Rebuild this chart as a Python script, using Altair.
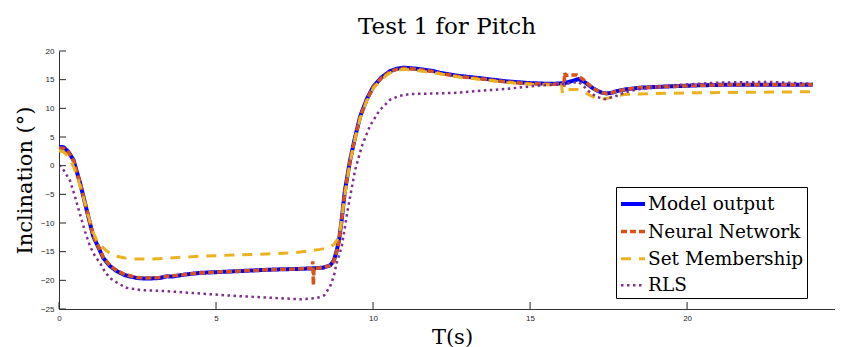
import altair as alt
import pandas as pd

# ---------------- data ----------------
series_names = ["Model output", "Neural Network", "Set Membership", "RLS"]
series_colors = ["#0000FF", "#D95319", "#EDB120", "#7E2F8E"]

model_t = [0, 0.15, 0.3, 0.46, 0.67, 0.88, 1.09, 1.31, 1.41, 1.62, 1.84, 2.1, 2.47, 2.8, 3.2, 3.43,
           3.6, 4.0, 4.49, 5.3, 6.08, 6.9, 7.68, 8.1, 8.4, 8.63, 8.75, 8.84, 8.92, 9.0, 9.1, 9.27,
           9.43, 9.59, 9.8, 10.01, 10.25, 10.54, 10.75, 10.97, 11.4, 11.92, 12.13, 12.67, 13.5,
           14.26, 15.0, 15.48, 15.8, 16.1, 16.3, 16.54, 16.7, 16.86, 17.0, 17.17, 17.3, 17.44,
           17.6, 17.76, 18.03, 18.5, 19.3, 20.3, 21.05, 22.5, 24.0]
model_v = [3.3, 3.2, 2.4, 1.0, -3.0, -7.7, -12.3, -14.9, -16.1, -17.5, -18.4, -19.1, -19.6, -19.7,
           -19.6, -19.3, -19.35, -19.0, -18.7, -18.5, -18.3, -18.1, -18.0, -17.9, -17.8, -17.4,
           -16.6, -14.9, -12.9, -9.5, -4.5, 1.0, 5.0, 8.6, 11.6, 13.8, 15.3, 16.5, 16.9, 17.1,
           16.9, 16.5, 16.2, 15.7, 15.2, 14.7, 14.4, 14.3, 14.3, 14.4, 14.7, 15.1, 14.7, 14.1,
           13.5, 13.0, 12.7, 12.6, 12.7, 13.0, 13.3, 13.6, 13.8, 14.0, 14.1, 14.1, 14.1]

nn_t = [0, 0.15, 0.3, 0.46, 0.67, 0.88, 1.09, 1.31, 1.41, 1.62, 1.84, 2.1, 2.47, 2.8, 3.2, 3.43,
        4.0, 4.49, 5.3, 6.08, 6.9, 7.68, 8.06, 8.08, 8.1, 8.12, 8.4, 8.63, 8.75, 8.84, 8.92, 9.0,
        9.1, 9.27, 9.43, 9.59, 9.8, 10.01, 10.25, 10.54, 10.75, 10.97, 11.4, 11.92, 12.13, 12.67,
        13.5, 14.26, 15.0, 15.48, 15.8, 16.05, 16.08, 16.1, 16.13, 16.3, 16.49, 16.7, 16.86,
        17.0, 17.17, 17.3, 17.44, 17.6, 17.76, 18.03, 18.5, 19.3, 20.3, 21.05, 22.5, 24.0]
nn_v = [3.1, 3.0, 2.3, 0.9, -3.0, -7.6, -12.2, -14.8, -16.0, -17.4, -18.3, -19.0, -19.5, -19.6,
        -19.5, -19.3, -19.0, -18.7, -18.5, -18.3, -18.1, -18.0, -17.9, -16.7, -20.8, -17.9,
        -17.8, -17.4, -16.7, -15.0, -13.0, -9.6, -4.6, 0.9, 4.9, 8.5, 11.5, 13.7, 15.2, 16.4,
        16.8, 17.0, 16.8, 16.4, 16.1, 15.6, 15.1, 14.6, 14.3, 14.2, 14.2, 14.3, 13.8, 16.2, 15.7,
        15.8, 15.8, 15.0, 14.2, 13.5, 13.0, 12.7, 12.6, 12.7, 13.0, 13.3, 13.6, 13.8, 14.0, 14.1,
        14.1, 14.1]

sm_t = [0, 0.15, 0.3, 0.46, 0.62, 0.77, 0.93, 1.09, 1.2, 1.31, 1.5, 1.73, 1.84, 2.1, 2.47, 3.0,
        3.5, 4.49, 5.5, 6.6, 7.5, 8.31, 8.6, 8.74, 8.85, 8.95, 9.1, 9.27, 9.43, 9.59, 9.8, 10.01,
        10.25, 10.54, 10.75, 10.97, 11.4, 11.92, 12.67, 13.5, 14.26, 15.0, 15.5, 16.0, 16.03,
        16.06, 16.5, 16.8, 17.07, 17.3, 17.5, 17.7, 18.0, 18.3, 20.0, 22.0, 24.0]
sm_v = [2.6, 2.4, 1.5, -0.1, -2.6, -5.4, -8.7, -11.7, -13.0, -13.8, -14.8, -15.6, -15.8, -16.1,
        -16.3, -16.3, -16.1, -15.8, -15.6, -15.4, -15.2, -14.6, -14.3, -13.8, -13.0, -11.5, -5.2,
        0.7, 4.7, 8.3, 11.3, 13.5, 15.0, 16.2, 16.6, 16.8, 16.6, 16.2, 15.5, 15.0, 14.5, 14.2,
        14.1, 14.1, 12.7, 13.3, 13.3, 12.6, 11.8, 11.6, 11.8, 12.1, 12.4, 12.5, 12.7, 12.8, 12.9]

rls_t = [0, 0.15, 0.35, 0.5, 0.67, 0.83, 0.99, 1.15, 1.31, 1.46, 1.62, 1.9, 2.15, 2.6, 3.43, 4.5,
         5.55, 6.6, 7.68, 8.2, 8.45, 8.63, 8.75, 8.84, 8.92, 9.0, 9.2, 9.43, 9.65, 9.9, 10.2,
         10.54, 10.85, 11.18, 12.0, 12.67, 13.5, 14.26, 15.32, 16.0, 16.54, 16.7, 16.86, 17.12,
         17.39, 17.76, 18.03, 18.4, 19.46, 21.05, 22.64, 24.0]
rls_v = [0.1, -0.8, -2.6, -5.2, -8.5, -11.5, -14.1, -15.8, -17.0, -18.5, -19.6, -20.6, -21.3,
         -21.7, -21.9, -22.3, -22.7, -23.0, -23.3, -23.1, -22.6, -21.1, -19.3, -17.0, -15.6,
         -14.2, -7.5, -0.7, 3.5, 6.9, 9.6, 11.5, 12.2, 12.5, 12.6, 12.7, 13.1, 13.4, 14.0, 14.2,
         14.6, 13.9, 13.0, 12.0, 11.6, 12.2, 12.8, 13.3, 14.0, 14.5, 14.6, 14.3]

x_ticks = [0, 5, 10, 15, 20]
y_ticks = [-25, -20, -15, -10, -5, 0, 5, 10, 15, 20]

# ---------------- build table ----------------
rows = []
for name, ts, vs in [(series_names[0], model_t, model_v), (series_names[1], nn_t, nn_v),
                     (series_names[2], sm_t, sm_v), (series_names[3], rls_t, rls_v)]:
    for i, (t, v) in enumerate(zip(ts, vs)):
        rows.append({"series": name, "t": t, "v": v, "idx": i})
df = pd.DataFrame(rows)

W, H = 776, 258
xscale = alt.Scale(domain=[0, 24.71], nice=False, zero=False)
yscale = alt.Scale(domain=[-25, 20], nice=False, zero=False)

SERIF = "DejaVu Serif"
SANS = "Liberation Sans"

legend = alt.Legend(
    title=None, orient="none", legendX=557, legendY=136,
    strokeColor="#000000", fillColor="#ffffff", padding=3,
    labelFont=SERIF, labelFontSize=18.5, labelColor="#000000", labelOffset=1,
    symbolType="stroke", symbolSize=576, rowPadding=3.6, labelLimit=170,
)

axis_common = dict(ticks=False, grid=False, labelFlush=False, labelOverlap=False,
                   labelFont=SANS, labelFontSize=8, labelColor="#262626",
                   domainColor="#333333", domainWidth=1,
                   titleFont=SERIF, titleFontSize=21, titleFontWeight="normal",
                   titleColor="#000000", titleBaseline="middle", titleAlign="center")

x_axis = alt.Axis(values=x_ticks, title="T(s)", labelPadding=5,
                  titleX=393, titleY=28, **axis_common)
y_axis = alt.Axis(values=y_ticks, title="Inclination (°)", labelPadding=5,
                  titleX=-34, titleY=129, titleAngle=-90, **axis_common)

lines = alt.Chart(df).mark_line(clip=True).encode(
    x=alt.X("t:Q", scale=xscale, axis=x_axis),
    y=alt.Y("v:Q", scale=yscale, axis=y_axis),
    color=alt.Color("series:N", scale=alt.Scale(domain=series_names, range=series_colors),
                    legend=legend),
    strokeDash=alt.StrokeDash("series:N",
                              scale=alt.Scale(domain=series_names,
                                              range=[[1, 0], [6, 3], [10, 8], [2.5, 3.5]]),
                              legend=legend),
    strokeWidth=alt.StrokeWidth("series:N",
                                scale=alt.Scale(domain=series_names, range=[4, 2.5, 2.5, 2.6]),
                                legend=legend),
    order=alt.Order("idx:Q"),
    detail="series:N",
)

ytick_df = pd.DataFrame({"t": [0] * len(y_ticks), "v": y_ticks})
xtick_df = pd.DataFrame({"t": x_ticks, "v": [-25] * len(x_ticks)})

yticks = alt.Chart(ytick_df).mark_rule(color="#262626", strokeWidth=1).encode(
    y=alt.Y("v:Q", scale=yscale, axis=y_axis),
    x=alt.value(0), x2=alt.value(7),
)
xticks = alt.Chart(xtick_df).mark_rule(color="#262626", strokeWidth=1).encode(
    x=alt.X("t:Q", scale=xscale, axis=x_axis),
    y=alt.value(H), y2=alt.value(H - 7),
)

chart = alt.layer(lines, yticks, xticks).properties(
    width=W, height=H,
    background="#ffffff",
    title=alt.TitleParams("Test 1 for Pitch", font=SERIF, fontSize=23, fontWeight="normal",
                          color="#000000", anchor="middle", baseline="alphabetic",
                          frame="group", offset=15, dy=25),
    autosize=alt.AutoSizeParams(type="none"),
    padding={"left": 51, "top": 43, "right": 0, "bottom": 38},
).configure_view(strokeWidth=0)

chart.save("out.html", embed_options={"renderer": "svg", "actions": False})
